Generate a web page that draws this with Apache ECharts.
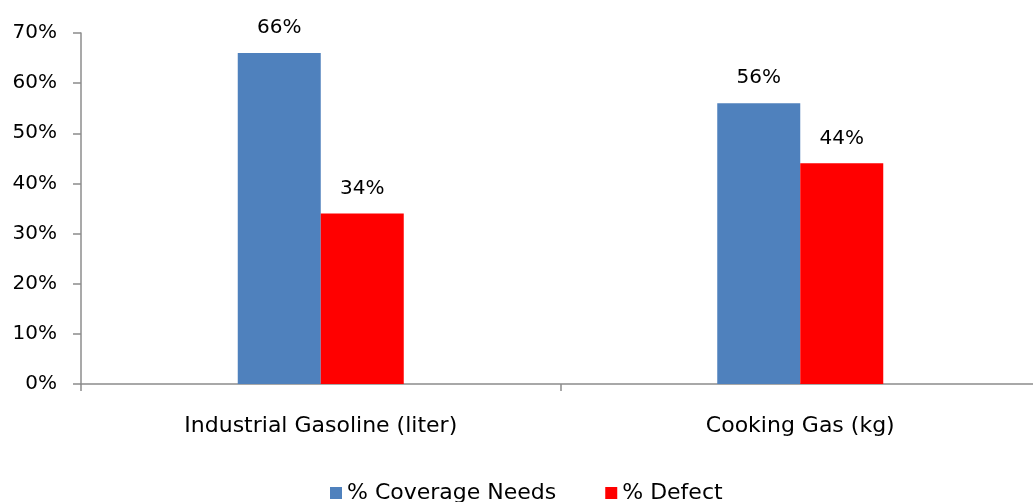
<!DOCTYPE html>
<html><head><meta charset="utf-8">
<script src="https://cdn.jsdelivr.net/npm/echarts@6/dist/echarts.min.js"></script>
<style>html,body{margin:0;padding:0;background:#fff}#c{width:1033px;height:502px}</style>
</head><body><div id="c"></div>
<script>
const categories = ['Industrial Gasoline (liter)', 'Cooking Gas (kg)'];
const coverageNeeds = [66, 56];
const defect = [34, 44];
const yTicks = [0, 10, 20, 30, 40, 50, 60, 70];

const FONT = '"DejaVu Sans", sans-serif';
const chart = echarts.init(document.getElementById('c'));
chart.setOption({
  animation: false,
  textStyle: { fontFamily: FONT },
  grid: { left: 81, width: 959, top: 33, height: 351, containLabel: false, outerBoundsMode: 'none' },
  legend: {
    top: 477, left: 325, itemWidth: 12, itemHeight: 12, itemGap: 49,
    icon: 'rect',
    textStyle: { fontSize: 22, color: '#000', fontFamily: FONT, padding: [6, 0, 0, 0] },
    data: ['% Coverage Needs', '% Defect']
  },
  xAxis: {
    type: 'category', data: categories,
    axisLine: { lineStyle: { color: '#8c8c8c', width: 1.5 } },
    axisTick: { show: true, length: 7, lineStyle: { color: '#8c8c8c', width: 1.5 } },
    axisLabel: { fontSize: 22, color: '#000', margin: 31, fontFamily: FONT }
  },
  yAxis: {
    type: 'value', min: yTicks[0], max: yTicks[yTicks.length - 1], interval: 10,
    splitLine: { show: false },
    axisLine: { show: true, lineStyle: { color: '#8c8c8c', width: 1.5 } },
    axisTick: { show: true, length: 8, lineStyle: { color: '#8c8c8c', width: 1.5 } },
    axisLabel: { fontSize: 20, color: '#000', margin: 24, formatter: v => v + '%', fontFamily: FONT }
  },
  series: [
    {
      name: '% Coverage Needs', type: 'bar', data: coverageNeeds, barWidth: 83, barGap: '0%',
      itemStyle: { color: '#4F81BD' },
      label: { show: true, position: 'top', distance: 15, fontSize: 20, color: '#000', formatter: p => p.value + '%', fontFamily: FONT }
    },
    {
      name: '% Defect', type: 'bar', data: defect, barWidth: 83, barGap: '0%',
      itemStyle: { color: '#FF0000' },
      label: { show: true, position: 'top', distance: 15, fontSize: 20, color: '#000', formatter: p => p.value + '%', fontFamily: FONT }
    }
  ]
});
</script></body></html>
